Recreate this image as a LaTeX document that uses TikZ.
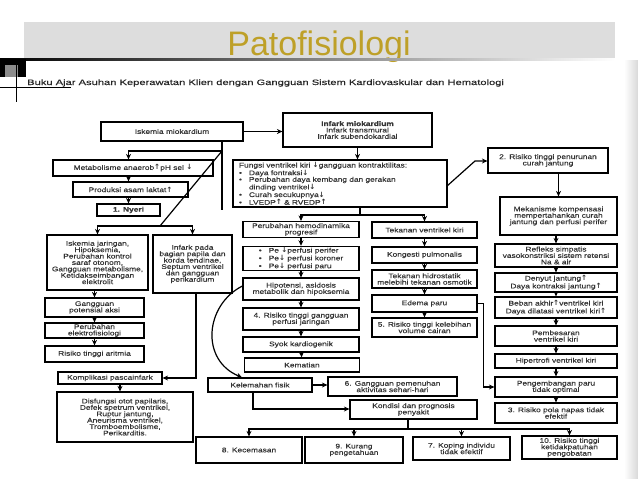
\documentclass[tikz,border=0pt]{standalone}
\usepackage{fontspec}
\setmainfont{Liberation Sans}
\newfontfamily\boxfont[FakeStretch=1.25,FakeBold=0.3]{Liberation Sans}
\newfontfamily\subfont[FakeStretch=1.43,FakeBold=0.3]{Liberation Sans}
\newfontfamily\arrfont{DejaVu Sans}
\usepackage{tikz}
\usetikzlibrary{arrows.meta,calc}
\definecolor{judul}{RGB}{190,160,40}
\definecolor{pita}{RGB}{221,221,221}
\newcommand{\naik}{{\arrfont\bfseries\fontsize{7.2}{6}\selectfont\char"2191}}
\newcommand{\turun}{{\arrfont\bfseries\fontsize{7.2}{6}\selectfont\char"2193}}
\newcommand{\titik}{\makebox[10pt][l]{\textbullet}}
\tikzset{box/.style={draw, line width=1.2pt, inner sep=1pt, align=center, text=black!80, font=\boxfont\fontsize{6.7}{6.4}\selectfont}}
\tikzset{wide/.style={font=\boxfont\fontsize{6.7}{7.8}\selectfont}}
\tikzset{sz/.style 2 args={minimum width=#1, minimum height=#2}}
\tikzset{arr/.style={line width=1.2pt, -{Stealth[length=5.5pt,width=5pt]}}}
\tikzset{ln/.style={line width=1.2pt}}

\begin{document}
\begin{tikzpicture}[x=1pt,y=-1pt]
\useasboundingbox (0,0) rectangle (638,479);
\fill[white] (0,0) rectangle (638,479);
\shade[left color=white, right color=black!15] (624,60) rectangle (638,479);

%header
\fill[pita] (24,22) rectangle (615,58);
\node (judul) at (319,55)[anchor=base, text=judul, font=\fontsize{34}{34}\selectfont]{Patofisiologi};
\shade[left color=black, right color=white] (0,58.3) rectangle (615,60.3);
\fill[black] (0,59) rectangle (26,77);
\fill[black!45] (5,65) rectangle (18,77);
\draw[line width=0.8pt] (16,59) -- (16,102);
\draw[line width=0.6pt] (0,87) -- (71,87);
\node (subjudul) at (27,85)[anchor=base west, inner sep=0pt, text=black!85, font=\subfont\fontsize{7.8}{7.8}\selectfont]{Buku Ajar Asuhan Keperawatan Klien dengan Gangguan Sistem Kardiovaskular dan Hematologi};

%left column
\node (isk) at (172,131.5)[box, sz={142}{19}]{Iskemia miokardium};
\node (met) at (133,168)[box, sz={160}{16}]{Metabolisme anaerob\naik pH sel \turun};
\node (lak) at (130.5,189.5)[box, sz={115}{15}]{Produksi asam laktat\naik};
\node (nyeri) at (128.5,210)[box, sz={63}{12}]{\textbf{1. Nyeri}};
\node (isj) at (97.5,262.5)[box, sz={101}{55}]{Iskemia jaringan,\\Hipoksemia,\\Perubahan kontrol\\saraf otonom,\\Gangguan metabolisme,\\Ketidakseimbangan\\elektrolit};
\node (ipa) at (192.5,264)[box, sz={79}{58}]{Infark pada\\bagian papila dan\\korda tendinae,\\Septum ventrikel\\dan gangguan\\perikardium};
\node (gpa) at (94.5,307.5)[box, sz={99}{19}]{Gangguan\\potensial aksi};
\node (elf) at (94.5,330.5)[box, sz={99}{15}]{Perubahan\\elektrofisiologi};
\node (ari) at (94.5,354)[box, sz={99}{16}]{Risiko tinggi aritmia};
\node (komp) at (110,378)[box, sz={104}{12}]{Komplikasi pascainfark};
\node (dis) at (125,417)[box, sz={136}{50}]{Disfungsi otot papilaris,\\Defek spetrum ventrikel,\\Ruptur jantung,\\Aneurisma ventrikel,\\Tromboembolisme,\\Perikarditis.};

%middle columns
\node (inf) at (357.5,130)[box, sz={149}{34}]{\textbf{Infark miokardium}\\Infark transmural\\Infark subendokardial};
\node (fungsi) at (340,183.5)[box, sz={214}{47}, text width=202, align=left, font=\boxfont\fontsize{6.7}{6.6}\selectfont]{Fungsi ventrikel kiri \turun gangguan kontraktilitas:\\\titik Daya fontraksi\turun\\\titik Perubahan daya kembang dan gerakan\\\hphantom{\titik}dinding ventrikel\turun\\\titik Curah secukupnya\turun\\\titik LVEDP\naik{} \& RVEDP\naik};
\node (hemo) at (301,229.5)[box, sz={116}{16}]{Perubahan hemodinamika\\progresif};
\node (pe) at (301,258.5)[box, sz={116}{23}, align=left, wide]{\titik Pe \turun perfusi perifer\\\titik Pe\turun{} perfusi koroner\\\titik Pe\turun{} perfusi paru};
\node (hipo) at (301,289)[box, sz={116}{22}]{Hipotensi, asidosis\\metabolik dan hipoksemia};
\node (r4) at (301,319)[box, sz={116}{22}]{4. Risiko tinggi gangguan\\perfusi jaringan};
\node (syok) at (301,344.5)[box, sz={116}{15}]{Syok kardiogenik};
\node (mati) at (302,365)[box, sz={115}{14}]{Kematian};
\node (tek) at (424.5,230)[box, sz={105}{16}]{Tekanan ventrikel kiri};
\node (kong) at (424.5,255)[box, sz={105}{16}]{Kongesti pulmonalis};
\node (hidro) at (424.5,279)[box, sz={105}{18}]{Tekanan hidrostatik\\melebihi tekanan osmotik};
\node (edema) at (424.5,303.5)[box, sz={105}{17}]{Edema paru};
\node (r5) at (424.5,327.5)[box, sz={105}{19}]{5. Risiko tinggi kelebihan\\volume cairan};

%right column
\node (risk2) at (548,160.5)[box, sz={120}{25}]{2. Risiko tinggi penurunan\\curah jantung};
\node (mek) at (558.5,216)[box, sz={117}{38}]{Mekanisme kompensasi\\mempertahankan curah\\jantung dan perfusi perifer};
\node (refl) at (556,255.5)[box, sz={122}{23}]{Refleks simpatis\\vasokonstriksi sistem retensi\\Na \& air};
\node (den) at (556,282.5)[box, sz={122}{19}, wide]{Denyut jantung\naik\\Daya kontraksi jantung\naik};
\node (beb) at (556,307.5)[box, sz={122}{21}, wide]{Beban akhir\naik ventrikel kiri\\Daya dilatasi ventrikel kiri\naik};
\node (pemb) at (556,336)[box, sz={122}{20}]{Pembesaran\\ventrikel kiri};
\node (hip) at (556,361)[box, sz={122}{14}]{Hipertrofi ventrikel kiri};
\node (peng) at (556,387)[box, sz={122}{20}]{Pengembangan paru\\tidak optimal};
\node (r3) at (556,413)[box, sz={122}{20}]{3. Risiko pola napas tidak\\efektif};

%bottom part
\node (kel) at (260,385)[box, sz={104}{14}]{Kelemahan fisik};
\node (g6) at (392.5,386.5)[box, sz={129}{19}]{6. Gangguan pemenuhan\\aktivitas sehari-hari};
\node (kond) at (413.5,409.5)[box, sz={127}{19}]{Kondisi dan prognosis\\penyakit};
\node (r8) at (249,450)[box, sz={106}{26}]{8. Kecemasan};
\node (r9) at (354,450)[box, sz={98}{26}]{9. Kurang\\pengetahuan};
\node (r7) at (461.5,448.5)[box, sz={97}{23}]{7. Koping individu\\tidak efektif};
\node (r10) at (569.5,447.5)[box, sz={95}{23}]{10. Risiko tinggi\\ketidakpatuhan\\pengobatan};

%connectors
\coordinate (cab) at (222,151);
\coordinate (ujung) at (222,210);
\coordinate (cab2) at (160,226);
\coordinate (cab4) at (360,215);
\coordinate (belok) at (475,161);
\coordinate (sudut) at (196,378);
\coordinate (siku) at (253,409);
\coordinate (cab5) at (408,429);

\draw[arr] (isk.east) -- (isk.east -| inf.west);
\draw[ln] (isk.south -| cab) -- (ujung);
\draw[arr] (cab) -| (met.north -| nyeri);
\draw[arr] (met.south -| nyeri) -- (lak.north -| nyeri);
\draw[arr] (lak.south -| nyeri) -- (nyeri);
\draw[ln] (cab) -- (cab2);
\draw[arr] (cab2) -| (isj);
\draw[arr] (cab2) -| (ipa);
\foreach \a/\b in {isj/gpa,gpa/elf,elf/ari}
  \draw[arr] (\a.south -| gpa) -- (\b.north -| gpa);
\draw[arr] (ipa.south -| sudut) -- (sudut) -- (komp.east |- sudut);
\draw[arr] (komp.south -| 120,0) -- (dis.north -| 120,0);

\draw[arr] (inf.south) -- (fungsi.north -| inf.south);
\draw[ln] (fungsi.south -| cab4) -- (cab4);
\draw[arr] (cab4) -| (hemo);
\draw[arr] (cab4) -| (tek);
\draw[arr] ($(fungsi.east)+(0,2)$) -- (belok) -- (belok -| risk2.west);
\foreach \a/\b in {hemo/pe,pe/hipo,hipo/r4,r4/syok,syok/mati,tek/kong,kong/hidro,hidro/edema,edema/r5}
  \draw[arr] (\a) -- (\b);

\draw[arr] (risk2.south -| mek) -- (mek);
\foreach \a/\b in {mek/refl,refl/den,den/beb,beb/pemb,pemb/hip,hip/peng,peng/r3}
  \draw[arr] (\a.south -| refl) -- (\b.north -| refl);
\draw[arr] (edema.east) -- ++(6,0) |- (peng.west);

\draw[arr] ([yshift=3]hipo.west) .. controls (205,305) and (200,360) .. ([xshift=-18]kel.north);
\draw[arr] (kel) -- (kel -| g6.west);
\draw[arr] (kel.south -| siku) -- (siku) -- (siku -| kond.west);
\draw[ln] (kond.south -| cab5) -- (cab5);
\foreach \t in {r8,r9,r7,r10}
  \draw[arr] (cab5) -| (\t);
\end{tikzpicture}
\end{document}
